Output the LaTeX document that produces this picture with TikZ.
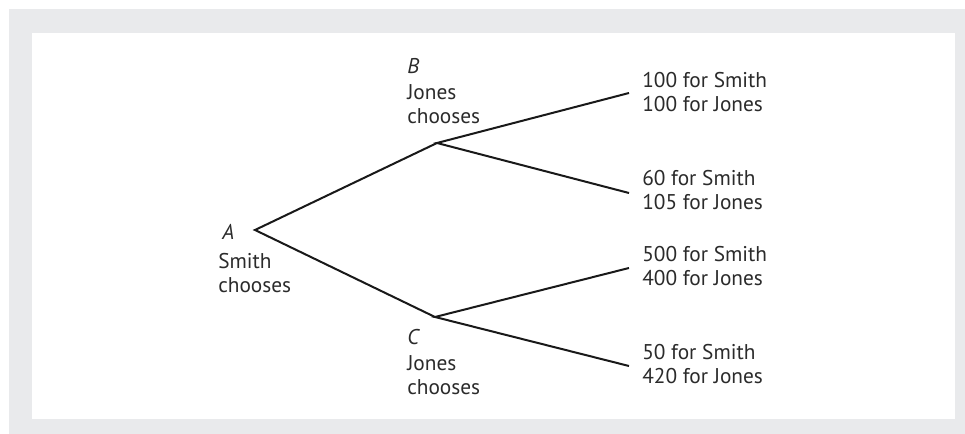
\documentclass[tikz,border=0pt]{standalone}
\usepackage{fontspec}
\setmainfont{PT Sans}
\usepackage{xcolor}
\usepackage{tikz}
\definecolor{framegray}{HTML}{E9EAEC}
\definecolor{inkgray}{HTML}{2B2B2B}
\tikzstyle{gtree}=[x=0.75pt,y=-0.75pt]
\tikzstyle{branch}=[line width=1.5pt,draw=black!90,line join=miter]
\tikzstyle{who}=[anchor=west,inner sep=0pt,text=inkgray,font=\fontsize{16}{18}\selectfont\itshape]
\tikzstyle{move}=[anchor=west,inner sep=0pt,text=inkgray,align=left,font=\fontsize{16}{18}\selectfont]
\tikzstyle{payoff}=[move]

\begin{document}
\begin{tikzpicture}[gtree]
\useasboundingbox (0,0) rectangle (965,434);
\fill[framegray] (9,9) rectangle (965,434);
\fill[white] (32,33) rectangle (955,419);
% decision points and end points
\coordinate (a) at (255,230);
\coordinate (b) at (437,143);
\coordinate (c) at (435,317);
\coordinate (bb) at (629,93);
\coordinate (bc) at (629,193);
\coordinate (cb) at (629,268);
\coordinate (cc) at (629,366);
% who chooses where
\node[who] (alab) at (222,232) {A};
\node[move] (amove) at (218,273.5) {Smith\\chooses};
\node[who] (blab) at (407,66) {B};
\node[move] (bmove) at (407,104) {Jones\\chooses};
\node[who] (clab) at (407,337) {C};
\node[move] (cmove) at (407,375) {Jones\\chooses};
% outcomes
\node[payoff] (pbb) at (642,92) {100 for Smith\\100 for Jones};
\node[payoff] (pbc) at (642,190.5) {60 for Smith\\105 for Jones};
\node[payoff] (pcb) at (642,266) {500 for Smith\\400 for Jones};
\node[payoff] (pcc) at (642,364) {50 for Smith\\420 for Jones};
% branches
\draw[branch] (b) -- (a) -- (c);
\draw[branch] (bb) -- (b) -- (bc);
\draw[branch] (cb) -- (c) -- (cc);
\end{tikzpicture}
\end{document}
